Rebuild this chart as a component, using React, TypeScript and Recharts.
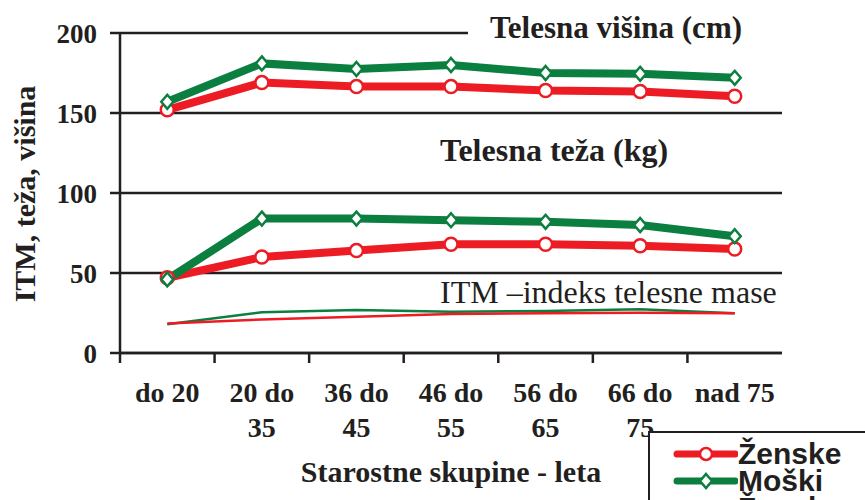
import { LineChart, Line, XAxis, YAxis, CartesianGrid } from 'recharts'

// Starostne skupine
const categories = ['do 20', '20 do\n35', '36 do\n45', '46 do\n55', '56 do\n65', '66 do\n75', 'nad 75']

// Telesna višina (cm)
const visinaZenske = [152, 169, 166.5, 166.5, 164, 163.5, 160.5]
const visinaMoski = [157, 181, 177.5, 180, 175, 174.5, 172]

// Telesna teža (kg)
const tezaZenske = [47, 60, 64, 68, 68, 67, 65]
const tezaMoski = [46, 84, 84, 83, 82, 80, 73]

// ITM – indeks telesne mase
const itmZenske = [18.5, 21, 22.7, 24.4, 24.8, 25.2, 24.8]
const itmMoski = [18, 25.4, 26.9, 25.8, 26.2, 27.3, 24.8]

const yTicks = [0, 50, 100, 150, 200]
const legendItems = ['Ženske', 'Moški', 'Ženske', 'Moški', 'Ženske', 'Moški']

const RED = '#ED1C24'
const GREEN = '#0B7F3F'
const INK = '#231F20'
const SERIF = '"Liberation Serif", "Times New Roman", serif'
const SANS = '"Liberation Sans", Arial, sans-serif'

const W = 865
const H = 500
const PLOT_LEFT = 120
const PLOT_RIGHT = 782
const PLOT_TOP = 33
const PLOT_BOTTOM = 353
const BAND = (PLOT_RIGHT - PLOT_LEFT) / categories.length

const data = categories.map((cat, i) => ({
  cat,
  visinaZ: visinaZenske[i],
  visinaM: visinaMoski[i],
  tezaZ: tezaZenske[i],
  tezaM: tezaMoski[i],
  itmZ: itmZenske[i],
  itmM: itmMoski[i],
}))

const CircleDot = (props: any) => {
  const { cx, cy, index } = props
  if (cx == null || cy == null) return null
  return <circle key={`c-${index}`} cx={cx} cy={cy} r={6.5} fill="#fff" stroke={RED} strokeWidth={2.5} />
}

const DiamondDot = (props: any) => {
  const { cx, cy, index } = props
  if (cx == null || cy == null) return null
  const w = 6, h = 7
  return (
    <path
      key={`d-${index}`}
      d={`M${cx},${cy - h} L${cx + w},${cy} L${cx},${cy + h} L${cx - w},${cy} Z`}
      fill="#fff"
      stroke={GREEN}
      strokeWidth={2.5}
    />
  )
}

// two-line category labels, with tick marks between the groups
const CategoryTick = (props: any) => {
  const { x, payload, index } = props
  const lines: string[] = String(payload.value).split('\n')
  return (
    <g>
      {index < categories.length - 1 && (
        <line x1={x + BAND / 2} x2={x + BAND / 2} y1={PLOT_BOTTOM} y2={PLOT_BOTTOM + 10} stroke={INK} strokeWidth={2.5} />
      )}
      {index === 0 && (
        <line x1={x - BAND / 2} x2={x - BAND / 2} y1={PLOT_BOTTOM} y2={PLOT_BOTTOM + 10} stroke={INK} strokeWidth={2.5} />
      )}
      {lines.map((t, i) => (
        <text
          key={i}
          x={x}
          y={PLOT_BOTTOM + 49 + i * 35}
          textAnchor="middle"
          fontFamily={SERIF}
          fontWeight="bold"
          fontSize={28}
          fill={INK}
        >
          {t}
        </text>
      ))}
    </g>
  )
}

const LegendBox = () => (
  <div
    style={{
      position: 'absolute',
      left: 648,
      top: 431,
      width: 240,
      height: 200,
      border: `2.5px solid ${INK}`,
      background: '#fff',
      paddingTop: 7,
      boxSizing: 'border-box',
    }}
  >
    {legendItems.map((name, i) => {
      const color = i % 2 === 0 ? RED : GREEN
      return (
        <div key={i} style={{ display: 'flex', alignItems: 'center', height: 27 }}>
          <svg width={88} height={20} style={{ flex: 'none' }}>
            <line x1={27} x2={85} y1={10} y2={10} stroke={color} strokeWidth={7} strokeLinecap="round" />
            {i % 2 === 0 ? (
              <circle cx={56} cy={10} r={6} fill="#fff" stroke={color} strokeWidth={2.5} />
            ) : (
              <path d="M56,3 L62,10 L56,17 L50,10 Z" fill="#fff" stroke={color} strokeWidth={2.5} />
            )}
          </svg>
          <span style={{ fontFamily: SANS, fontWeight: 'bold', fontSize: 30, lineHeight: '27px', color: INK }}>{name}</span>
        </div>
      )
    })}
  </div>
)

export default function App() {
  return (
    <div style={{ position: 'fixed', left: 0, top: 0, width: W, height: H, overflow: 'hidden', background: '#fff' }}>
      <LineChart
        width={W}
        height={H}
        data={data}
        margin={{ top: PLOT_TOP, right: W - PLOT_RIGHT, bottom: H - PLOT_BOTTOM - 60, left: PLOT_LEFT - 60 }}
      >
        <CartesianGrid vertical={false} stroke={INK} strokeWidth={2.5} />
        <XAxis
          dataKey="cat"
          interval={0}
          height={60}
          padding={{ left: BAND / 2, right: BAND / 2 }}
          axisLine={{ stroke: INK, strokeWidth: 2.5 }}
          tickLine={false}
          tick={<CategoryTick />}
        />
        <YAxis
          width={60}
          domain={[0, 200]}
          ticks={yTicks}
          interval={0}
          tickSize={10}
          tickMargin={13}
          axisLine={{ stroke: INK, strokeWidth: 2.5 }}
          tickLine={{ stroke: INK, strokeWidth: 2.5 }}
          tick={{ fontFamily: SERIF, fontWeight: 'bold', fontSize: 27, fill: INK }}
        />
        <Line dataKey="itmM" stroke={GREEN} strokeWidth={2.5} dot={false} isAnimationActive={false} />
        <Line dataKey="itmZ" stroke={RED} strokeWidth={2.5} dot={false} isAnimationActive={false} />
        <Line dataKey="tezaZ" stroke={RED} strokeWidth={8} dot={<CircleDot />} isAnimationActive={false} />
        <Line dataKey="tezaM" stroke={GREEN} strokeWidth={8} dot={<DiamondDot />} isAnimationActive={false} />
        <Line dataKey="visinaZ" stroke={RED} strokeWidth={8} dot={<CircleDot />} isAnimationActive={false} />
        <Line dataKey="visinaM" stroke={GREEN} strokeWidth={8} dot={<DiamondDot />} isAnimationActive={false} />
      </LineChart>

      {/* title sits on a white patch that hides the top gridline */}
      <div
        style={{
          position: 'absolute',
          left: 468,
          top: 10,
          width: 330,
          padding: '0 0 0 22px',
          background: '#fff',
          fontFamily: SERIF,
          fontWeight: 'bold',
          fontSize: 31,
          lineHeight: '36px',
          color: INK,
          whiteSpace: 'nowrap',
        }}
      >
        Telesna višina (cm)
      </div>
      <div
        style={{
          position: 'absolute',
          left: 440,
          top: 132,
          fontFamily: SERIF,
          fontWeight: 'bold',
          fontSize: 32,
          lineHeight: '36px',
          color: INK,
          whiteSpace: 'nowrap',
        }}
      >
        Telesna teža (kg)
      </div>
      <div
        style={{
          position: 'absolute',
          left: 440,
          top: 274,
          fontFamily: SERIF,
          fontSize: 32,
          lineHeight: '36px',
          color: INK,
          whiteSpace: 'nowrap',
        }}
      >
        ITM –indeks telesne mase
      </div>
      <div
        style={{
          position: 'absolute',
          left: 25,
          top: 194,
          transform: 'translate(-50%, -50%) rotate(-90deg)',
          fontFamily: SERIF,
          fontWeight: 'bold',
          fontSize: 30,
          lineHeight: '32px',
          color: INK,
          whiteSpace: 'nowrap',
        }}
      >
        ITM, teža, višina
      </div>
      <div
        style={{
          position: 'absolute',
          left: (PLOT_LEFT + PLOT_RIGHT) / 2,
          top: 472,
          transform: 'translate(-50%, -50%)',
          fontFamily: SERIF,
          fontWeight: 'bold',
          fontSize: 30,
          lineHeight: '32px',
          color: INK,
          whiteSpace: 'nowrap',
        }}
      >
        Starostne skupine - leta
      </div>

      <LegendBox />
    </div>
  )
}
